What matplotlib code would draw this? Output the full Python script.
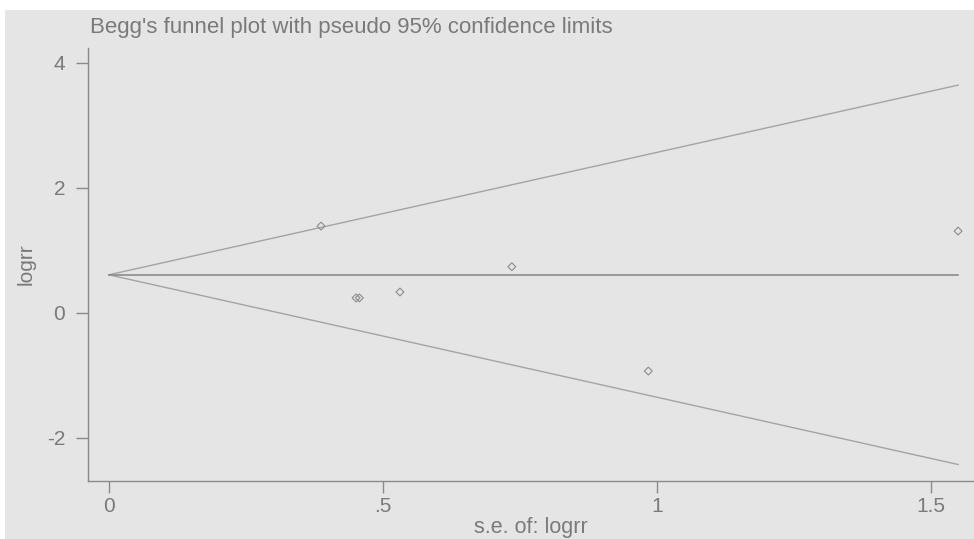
import matplotlib
matplotlib.use("Agg")
import matplotlib.pyplot as plt
from matplotlib.patches import Rectangle
import numpy as np

# Data
se_logrr = [0.387, 0.451, 0.457, 0.531, 0.735, 0.984, 1.549]
logrr = [1.39, 0.24, 0.24, 0.335, 0.74, -0.93, 1.31]
pooled = 0.61
xticks = [0, 0.5, 1, 1.5]
xticklabels = ["0", ".5", "1", "1.5"]
yticks = [-2, 0, 2, 4]
yticklabels = ["-2", "0", "2", "4"]

plt.rcParams['font.family'] = ['Liberation Sans', 'DejaVu Sans']
W, H = 974, 539
fig = plt.figure(figsize=(W / 100, H / 100), dpi=100, facecolor='white')
bg = '#e5e5e5'
fig.patches.append(Rectangle((5 / W, 0), 1 - 5 / W, 1 - 10 / H, transform=fig.transFigure,
                             facecolor=bg, edgecolor='none', zorder=-10))

ax = fig.add_axes([88 / W, (H - 481) / H, 1 - 88 / W, (481 - 48) / H])
ax.set_facecolor(bg)
gray = '#8a8a8a'
txt = '#7a7a7a'

se_max = max(se_logrr)
xs = np.array([0, se_max])
ax.plot(xs, pooled + 1.96 * xs, color='#a4a4a4', lw=1)
ax.plot(xs, pooled - 1.96 * xs, color='#a4a4a4', lw=1)
ax.plot(xs, [pooled, pooled], color='#8c8c8c', lw=1.2)
ax.scatter(se_logrr, logrr, marker='D', s=16, facecolors='none', edgecolors='#8c8c8c', linewidths=0.8, zorder=3)

ax.set_xlim(-0.038, 1.578)
ax.set_ylim(-2.69, 4.24)
for s in ['top', 'right']:
    ax.spines[s].set_visible(False)
for s in ['left', 'bottom']:
    ax.spines[s].set_color(gray)
    ax.spines[s].set_linewidth(1)
ax.set_xticks(xticks)
ax.set_xticklabels(xticklabels)
ax.set_yticks(yticks)
ax.set_yticklabels(yticklabels)
ax.tick_params(axis='both', colors=gray, labelcolor=txt, labelsize=15, length=8.5, width=1)
ax.tick_params(axis='y', pad=8)
ax.tick_params(axis='x', pad=3)
ax.set_xlabel('s.e. of: logrr', color=txt, fontsize=15.5, labelpad=1)
ax.set_ylabel('logrr', color=txt, fontsize=15, labelpad=8)

fig.text(90 / W, 1 - 27 / H, "Begg's funnel plot with pseudo 95% confidence limits",
         color=txt, fontsize=16, va='center', ha='left')

fig.savefig('out.png', dpi=100, facecolor='white')
